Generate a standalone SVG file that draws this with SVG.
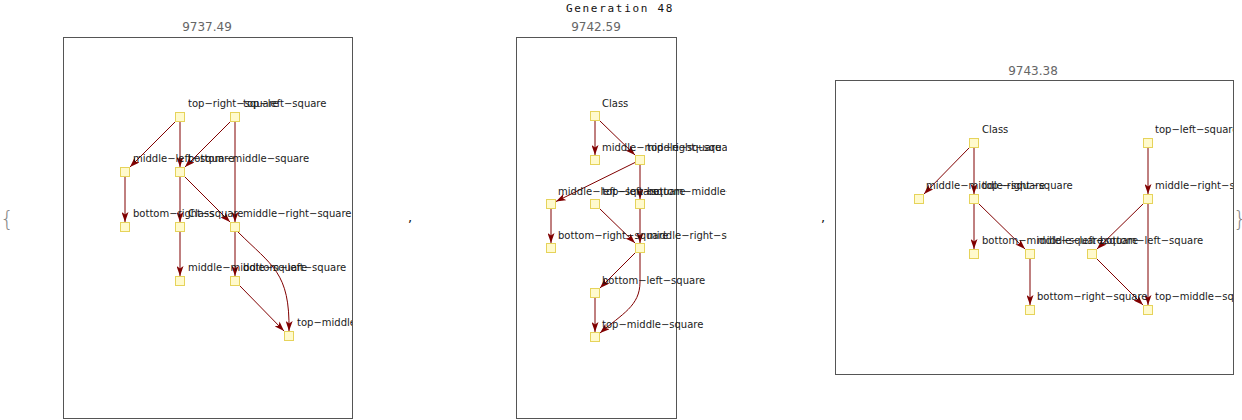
<svg xmlns="http://www.w3.org/2000/svg" width="1242" height="420" viewBox="0 0 1242 420">
<style>
.frame{fill:none;stroke:#555;stroke-width:1}
.node rect{fill:#fffacd;stroke:#e6d35a;stroke-width:1}
.lbl{font-family:"DejaVu Sans",sans-serif;font-size:10px;fill:#1a1a1a}
.ttl{font-family:"DejaVu Sans",sans-serif;font-size:12px;fill:#666;text-anchor:middle}
.gen{font-family:"DejaVu Sans Mono",monospace;font-size:11px;fill:#111;text-anchor:middle;letter-spacing:1.7px}
.brace{font-family:"DejaVu Sans",sans-serif;font-size:22px;fill:#888;font-weight:100}
.comma{font-family:"DejaVu Sans",sans-serif;font-size:13px;fill:#111}
.edges path{fill:none;stroke:#800000;stroke-width:1;marker-end:url(#ah)}
</style>
<defs>
<marker id="ah" viewBox="0 0 10 7" refX="10" refY="3.5" markerWidth="10" markerHeight="7" markerUnits="userSpaceOnUse" orient="auto">
<path d="M0,0 L10,3.5 L0,7 L2.5,3.5 z" fill="#800000"/>
</marker>
<clipPath id="c1"><rect x="0" y="30" width="352" height="390"/></clipPath>
<clipPath id="c2"><rect x="500" y="30" width="227" height="390"/></clipPath>
<clipPath id="c3"><rect x="830" y="70" width="403" height="310"/></clipPath>
</defs>
<rect width="1242" height="420" fill="#fff"/>
<text class="gen" x="620" y="12">Generation 48</text>
<text class="brace" x="0" y="226">{</text>
<text class="brace" x="1233" y="226">}</text>
<text class="comma" x="408" y="222">,</text>
<text class="comma" x="821" y="222">,</text>

<!-- Panel 1 -->
<g id="panel1">
<text class="ttl" x="207" y="31">9737.49</text>
<rect class="frame" x="63.5" y="37.5" width="289" height="381"/>
<g class="edges" id="edges1">
<path d="M175,122 L130,167"/>
<path d="M180,122 L180,167"/>
<path d="M230,122 L185,167"/>
<path d="M235,122 L235,222"/>
<path d="M125,177 L125,222"/>
<path d="M180,177 L180,222"/>
<path d="M185,177 L230,222"/>
<path d="M180,232 L180,276"/>
<path d="M235,232 L235,276"/>
<path d="M238,232 C272,266 290,272 289,331"/>
<path d="M240,286 L284,331"/>
</g>
<g clip-path="url(#c1)">
<g id="p1-top-right-square" class="node"><rect x="175.5" y="112.5" width="9" height="9"/><text class="lbl" x="188" y="107">top−right−square</text></g>
<g id="p1-top-left-square" class="node"><rect x="230.5" y="112.5" width="9" height="9"/><text class="lbl" x="243" y="107">top−left−square</text></g>
<g id="p1-middle-left-square" class="node"><rect x="120.5" y="167.5" width="9" height="9"/><text class="lbl" x="133" y="162">middle−left−square</text></g>
<g id="p1-bottom-middle-square" class="node"><rect x="175.5" y="167.5" width="9" height="9"/><text class="lbl" x="188" y="162">bottom−middle−square</text></g>
<g id="p1-bottom-right-square" class="node"><rect x="120.5" y="222.5" width="9" height="9"/><text class="lbl" x="133" y="217">bottom−right−square</text></g>
<g id="p1-Class" class="node"><rect x="175.5" y="222.5" width="9" height="9"/><text class="lbl" x="188" y="217">Class</text></g>
<g id="p1-middle-right-square" class="node"><rect x="230.5" y="222.5" width="9" height="9"/><text class="lbl" x="243" y="217">middle−right−square</text></g>
<g id="p1-middle-middle-square" class="node"><rect x="175.5" y="276.5" width="9" height="9"/><text class="lbl" x="188" y="271">middle−middle−square</text></g>
<g id="p1-bottom-left-square" class="node"><rect x="230.5" y="276.5" width="9" height="9"/><text class="lbl" x="243" y="271">bottom−left−square</text></g>
<g id="p1-top-middle-square" class="node"><rect x="284.5" y="331.5" width="9" height="9"/><text class="lbl" x="297" y="326">top−middle−square</text></g>
</g>
</g>

<!-- Panel 2 -->
<g id="panel2">
<text class="ttl" x="596" y="31">9742.59</text>
<rect class="frame" x="516.5" y="37.5" width="160" height="381"/>
<g class="edges" id="edges2">
<path d="M595,121 L595,155"/>
<path d="M600,121 L635,155"/>
<path d="M635,162.5 L556,201.5"/>
<path d="M640,165 L640,199"/>
<path d="M640,209 L640,243"/>
<path d="M551,209 L551,243"/>
<path d="M600,209 L635,243"/>
<path d="M635,253 L600,288"/>
<path d="M640,253 L640,282 C640,306 622,314 600,333"/>
<path d="M595,298 L595,332"/>
</g>
<g clip-path="url(#c2)">
<g id="p2-Class" class="node"><rect x="590.5" y="111.5" width="9" height="9"/><text class="lbl" x="602" y="107">Class</text></g>
<g id="p2-middle-middle-square" class="node"><rect x="590.5" y="155.5" width="9" height="9"/><text class="lbl" x="602" y="151">middle−middle−square</text></g>
<g id="p2-top-right-square" class="node"><rect x="635.5" y="155.5" width="9" height="9"/><text class="lbl" x="647" y="151">top−right−square</text></g>
<g id="p2-middle-left-square" class="node"><rect x="546.5" y="199.5" width="9" height="9"/><text class="lbl" x="558" y="195">middle−left−square</text></g>
<g id="p2-top-left-square" class="node"><rect x="590.5" y="199.5" width="9" height="9"/><text class="lbl" x="602" y="195">top−left−square</text></g>
<g id="p2-bottom-middle-square" class="node"><rect x="635.5" y="199.5" width="9" height="9"/><text class="lbl" x="647" y="195">bottom−middle−square</text></g>
<g id="p2-bottom-right-square" class="node"><rect x="546.5" y="243.5" width="9" height="9"/><text class="lbl" x="558" y="239">bottom−right−square</text></g>
<g id="p2-middle-right-square" class="node"><rect x="635.5" y="243.5" width="9" height="9"/><text class="lbl" x="647" y="239">middle−right−square</text></g>
<g id="p2-bottom-left-square" class="node"><rect x="590.5" y="288.5" width="9" height="9"/><text class="lbl" x="602" y="284">bottom−left−square</text></g>
<g id="p2-top-middle-square" class="node"><rect x="590.5" y="332.5" width="9" height="9"/><text class="lbl" x="602" y="328">top−middle−square</text></g>
</g>
</g>

<!-- Panel 3 -->
<g id="panel3">
<text class="ttl" x="1033" y="75">9743.38</text>
<rect class="frame" x="835.5" y="80.5" width="398" height="294"/>
<g class="edges" id="edges3">
<path d="M969,148 L924,194"/>
<path d="M974,148 L974,194"/>
<path d="M974,204 L974,249"/>
<path d="M979,204 L1025,249"/>
<path d="M1030,259 L1030,305"/>
<path d="M1148,148 L1148,194"/>
<path d="M1143,204 L1097,249"/>
<path d="M1148,204 L1148,305"/>
<path d="M1097,259 L1143,305"/>
</g>
<g clip-path="url(#c3)">
<g id="p3-Class" class="node"><rect x="969.5" y="138.5" width="9" height="9"/><text class="lbl" x="982" y="133">Class</text></g>
<g id="p3-top-left-square" class="node"><rect x="1143.5" y="138.5" width="9" height="9"/><text class="lbl" x="1155" y="133">top−left−square</text></g>
<g id="p3-middle-middle-square" class="node"><rect x="914.5" y="194.5" width="9" height="9"/><text class="lbl" x="926" y="189">middle−middle−square</text></g>
<g id="p3-top-right-square" class="node"><rect x="969.5" y="194.5" width="9" height="9"/><text class="lbl" x="982" y="189">top−right−square</text></g>
<g id="p3-middle-right-square" class="node"><rect x="1143.5" y="194.5" width="9" height="9"/><text class="lbl" x="1155" y="189">middle−right−square</text></g>
<g id="p3-bottom-middle-square" class="node"><rect x="969.5" y="249.5" width="9" height="9"/><text class="lbl" x="982" y="244">bottom−middle−square</text></g>
<g id="p3-middle-left-square" class="node"><rect x="1025.5" y="249.5" width="9" height="9"/><text class="lbl" x="1037" y="244">middle−left−square</text></g>
<g id="p3-bottom-left-square" class="node"><rect x="1087.5" y="249.5" width="9" height="9"/><text class="lbl" x="1100" y="244">bottom−left−square</text></g>
<g id="p3-bottom-right-square" class="node"><rect x="1025.5" y="305.5" width="9" height="9"/><text class="lbl" x="1037" y="300">bottom−right−square</text></g>
<g id="p3-top-middle-square" class="node"><rect x="1143.5" y="305.5" width="9" height="9"/><text class="lbl" x="1155" y="300">top−middle−square</text></g>
</g>
</g>
</svg>
